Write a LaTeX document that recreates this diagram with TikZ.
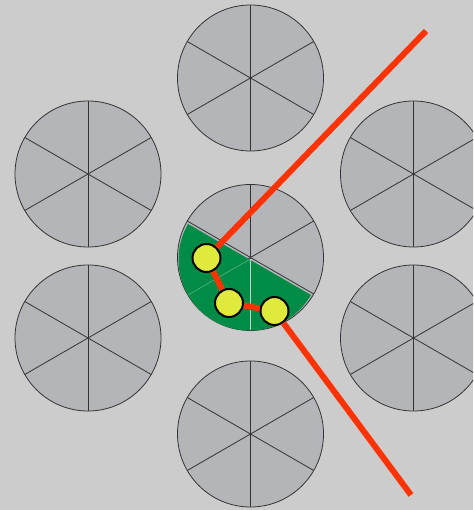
\documentclass[tikz,border=0pt]{standalone}
\usetikzlibrary{positioning}
\definecolor{bggray}{RGB}{204,204,204}
\definecolor{strandgray}{RGB}{180,181,185}
\definecolor{sectorgreen}{RGB}{0,140,70}
\definecolor{ballyellow}{RGB}{224,234,60}
\definecolor{routered}{RGB}{255,51,0}
\tikzset{
  strand/.style={draw=black!80, fill=strandgray, line width=0.8pt},
  spoke/.style={black!80, line width=0.8pt},
  sector/.style={fill=sectorgreen},
  route/.style={routered, line width=6pt},
  ball/.style={circle, draw=black, fill=ballyellow, line width=2pt, minimum size=28pt, inner sep=0pt}
}
\begin{document}
\begin{tikzpicture}[x=1pt,y=1pt]
  \useasboundingbox (0,0) rectangle (473,510);
  \clip (0,0) rectangle (473,510);
  \fill[bggray] (0,0) rectangle (473,510);
  \foreach \cx/\cy in {250.5/252.5, 250.5/432, 88/336, 413.5/336, 88/172, 413.5/172, 250.5/76}{
    \draw[strand] (\cx,\cy) circle (73);
    \foreach \a in {30,90,150}{\draw[spoke,shift={(\cx,\cy)}] (\a:73)--(\a+180:73);}
  }
  \fill[sector] (249.5,250.5) ++(150:71) arc[start angle=150,end angle=330,radius=71] -- cycle;
  \draw[gray!40!white, line width=0.8pt] (250.5,250.5) -- ++(270:71);
  \draw[sectorgreen!60!white, line width=0.5pt] (249.5,250.5) -- ++(210:71);
  \node[ball] (b1) at (206.5,252) {};
  \node[ball] (b2) at (229,207) {};
  \node[ball] (b3) at (274.5,199) {};
  \coordinate (entry) at (426,479);
  \coordinate (exit) at (411,15);
  \draw[route] (entry) -- (b1) -- (b2) -- (b3) -- (exit);
\end{tikzpicture}
\end{document}
